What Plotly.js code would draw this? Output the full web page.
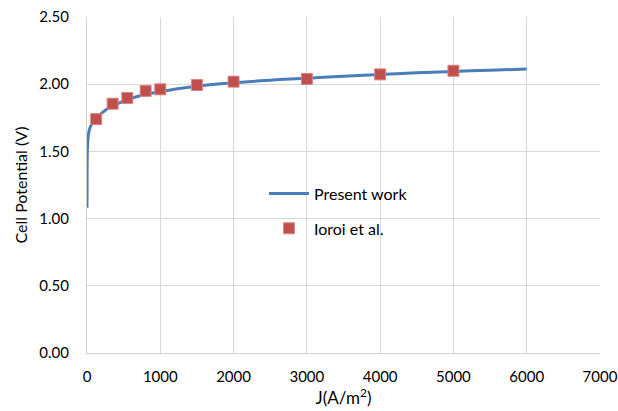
<!DOCTYPE html>
<html>
<head>
<meta charset="utf-8">
<script src="https://cdn.plot.ly/plotly-3.0.1.min.js"></script>
<style>html,body{margin:0;padding:0;background:#fff;}#chart{width:618px;height:411px;}</style>
</head>
<body>
<div id="chart"></div>
<script>
// Present work (model curve)
const modelJ = [0, 1, 3, 8, 20, 50, 100, 150, 200, 300, 400, 500, 700, 1000, 1500, 2000, 2500, 3000, 3500, 4000, 4500, 5000, 5500, 6000];
const modelV = [1.08, 1.30, 1.45, 1.55, 1.63, 1.69, 1.73, 1.76, 1.785, 1.825, 1.85, 1.875, 1.91, 1.945, 1.985, 2.01, 2.03, 2.045, 2.06, 2.073, 2.085, 2.095, 2.104, 2.113];
// Ioroi et al. (experimental points)
const expJ = [125, 350, 550, 800, 1000, 1500, 2000, 3000, 4000, 5000];
const expV = [1.74, 1.855, 1.897, 1.95, 1.962, 1.994, 2.019, 2.039, 2.073, 2.10];
const xTicks = [0, 1000, 2000, 3000, 4000, 5000, 6000, 7000];
const yTicks = [0, 0.5, 1.0, 1.5, 2.0, 2.5];

const font = "Lato, 'Open Sans', sans-serif";
const traces = [
  {x: modelJ, y: modelV, mode: 'lines', name: 'Present work', line: {color: '#4a7ebb', width: 3, shape: 'spline'}, legendgroup: 'a'},
  {x: expJ, y: expV, mode: 'markers', name: 'Ioroi et al.', marker: {symbol: 'square', size: 11, color: '#c0504d', line: {color: '#d98583', width: 1}}, legendgroup: 'b'}
];
const layout = {
  width: 618, height: 411,
  margin: {l: 86.5, r: 18, t: 17, b: 58},
  paper_bgcolor: '#fff', plot_bgcolor: '#fff',
  font: {family: font, size: 15, color: '#000'},
  showlegend: true,
  legend: {x: 0.345, y: 0.525, xanchor: 'left', yanchor: 'top', bgcolor: 'rgba(0,0,0,0)', font: {family: font, size: 16, color: '#000'}, traceorder: 'grouped', tracegroupgap: 11, itemwidth: 40},
  xaxis: {range: [0, 7000], tickvals: xTicks, ticktext: xTicks.map(String), showgrid: true, gridcolor: '#d9d9d9', gridwidth: 1, zeroline: false, showline: true, linecolor: '#d0d0d0', linewidth: 1, ticks: '', tickfont: {family: font, size: 15, color: '#000'}, ticklabelstandoff: 10,
    title: {text: 'J(A/m<sup>2</sup>)', font: {family: font, size: 17, color: '#000'}, standoff: 8}, fixedrange: true, automargin: false},
  yaxis: {range: [0, 2.5], tickvals: yTicks, ticktext: yTicks.map(v => v.toFixed(2)), showgrid: true, gridcolor: '#d9d9d9', gridwidth: 1, zeroline: false, showline: true, linecolor: '#d0d0d0', linewidth: 1, ticks: '', tickfont: {family: font, size: 15, color: '#000'}, ticklabelstandoff: 14,
    title: {text: 'Cell Potential (V)', font: {family: font, size: 16, color: '#000'}, standoff: 7}, fixedrange: true, automargin: false}
};
Plotly.newPlot('chart', traces, layout, {staticPlot: true, displayModeBar: false});
</script>
</body>
</html>
